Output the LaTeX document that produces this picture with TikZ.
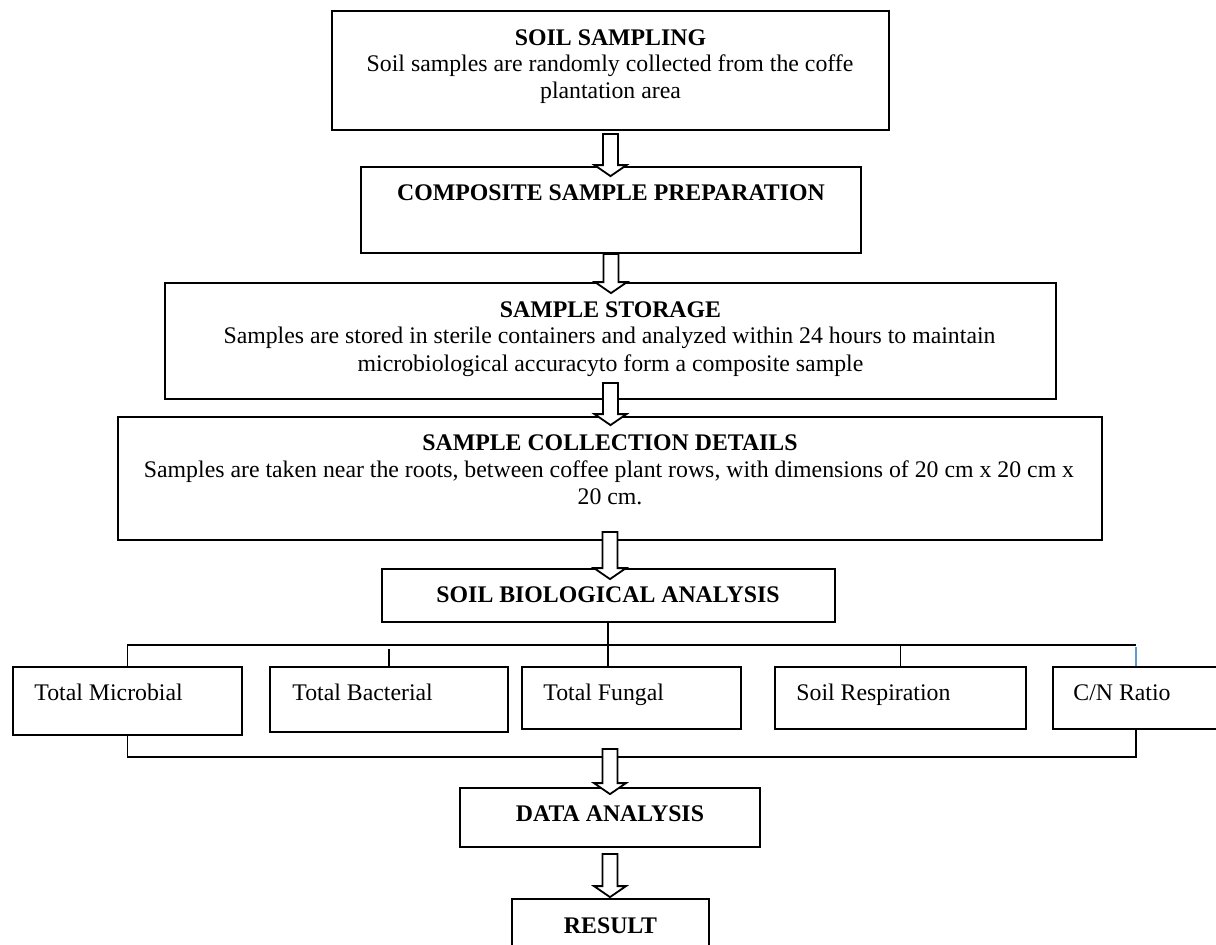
\documentclass[tikz,border=0pt]{standalone}
\usepackage{fontspec}
\setmainfont{Liberation Serif}
\usetikzlibrary{calc,fit}
\definecolor{tickblue}{RGB}{91,155,213}
\tikzset{
  box/.style={draw, line width=0.9pt, inner sep=0pt},
  lbl/.style={inner sep=0pt, anchor=base, font=\fontsize{11.9}{14}\selectfont},
  title/.style={inner sep=0pt, anchor=base, font=\fontsize{11.9}{14}\selectfont\bfseries},
  lblw/.style={inner sep=0pt, anchor=base west, font=\fontsize{11.9}{14}\selectfont},
  wire/.style={line width=0.9pt},
  barrow/.style={draw, fill=white, line width=0.9pt, line join=miter},
}
\newcommand{\blockarrow}[4]{%
  \draw[barrow] ($(#1)+(-7.5,#3)$) -- ($(#1 |- #2)+(-7.5,#4)$) -- ($(#1 |- #2)+(-16,#4)$)
    -- ($(#1 |- #2)+(0,#4+11)$) -- ($(#1 |- #2)+(16,#4)$) -- ($(#1 |- #2)+(7.5,#4)$)
    -- ($(#1)+(7.5,#3)$) -- cycle;}
\begin{document}
\begin{tikzpicture}[x=0.5pt,y=-0.5pt]
\useasboundingbox (0,0) rectangle (1216,944);
% main boxes
\node[box, fit={(332,11) (889,130)}] (b1) {};
\node[box, fit={(361,167) (861,253)}] (b2) {};
\node[box, fit={(165,283) (1056,399)}] (b3) {};
\node[box, fit={(118,417) (1102,540)}] (b4) {};
\node[box, fit={(382,569) (835,622)}] (b5) {};
% child boxes
\node[box, fit={(13,667) (242,735)}] (mic) {};
\node[box, fit={(270,667) (508,732)}] (bac) {};
\node[box, fit={(522,667) (741,729)}] (fun) {};
\node[box, fit={(775,667) (1026,729)}] (res) {};
\node[box, fit={(1053,667) (1219,729)}] (cn) {};
% lower boxes
\node[box, fit={(460,788) (760,847)}] (dat) {};
\node[box, fit={(512,899) (709,960)}] (rst) {};
% texts
\node[title] (t1) at (610.5,45) {SOIL SAMPLING};
\node[lbl] (t1b) at (610,71) {Soil samples are randomly collected from the coffe};
\node[lbl] (t1c) at (610.5,98) {plantation area};
\node[title] (t2) at (611,200) {COMPOSITE SAMPLE PREPARATION};
\node[title] (t3) at (610.5,317) {SAMPLE STORAGE};
\node[lbl] (t3b) at (609.5,343) {Samples are stored in sterile containers and analyzed within 24 hours to maintain};
\node[lbl] (t3c) at (610.5,371) {microbiological accuracyto form a composite sample};
\node[title] (t4) at (610,450) {SAMPLE COLLECTION DETAILS};
\node[lbl] (t4b) at (609,477) {Samples are taken near the roots, between coffee plant rows, with dimensions of 20 cm x 20 cm x};
\node[lbl] (t4c) at (610,504) {20 cm.};
\node[title] (t5) at (608,602) {SOIL BIOLOGICAL ANALYSIS};
\node[lblw] (tmic) at (34,700) {Total Microbial};
\node[lblw] (tbac) at (292,700) {Total Bacterial};
\node[lblw] (tfun) at (543,700) {Total Fungal};
\node[lblw] (tres) at (796,700) {Soil Respiration};
\node[lblw] (tcn) at (1073,700) {C/N Ratio};
\node[title] (tdat) at (610,821) {DATA ANALYSIS};
\node[title] (trst) at (610.5,933) {RESULT};
% branching connectors
\coordinate (busT) at (608,645);
\coordinate (busB) at (610,757);
\draw[wire] (b5.south -| busT) -- (busT |- fun.north);
\draw[wire] (mic.north) -- (mic.north |- busT) -- (cn.north |- busT);
\draw[wire] ($(bac.north)+(0,-17)$) -- (bac.north);
\draw[wire] (res.north |- busT) -- (res.north);
\draw[tickblue, line width=0.6pt] ($(cn.north)+(0,-19)$) -- (cn.north);
\draw[wire] (mic.south) -- (mic.south |- busB) -- (cn.south |- busB) -- (cn.south);
% block arrows
\blockarrow{b1.south}{b2.north}{3}{-1}
\blockarrow{b2.south}{b3.north}{0}{0}
\blockarrow{b3.south}{b4.north}{-17}{-2}
\blockarrow{b4.south}{b5.north}{-9}{0}
\blockarrow{busB}{dat.north}{-8}{-4}
\blockarrow{dat.south}{rst.north}{6}{-12}
\end{tikzpicture}
\end{document}
